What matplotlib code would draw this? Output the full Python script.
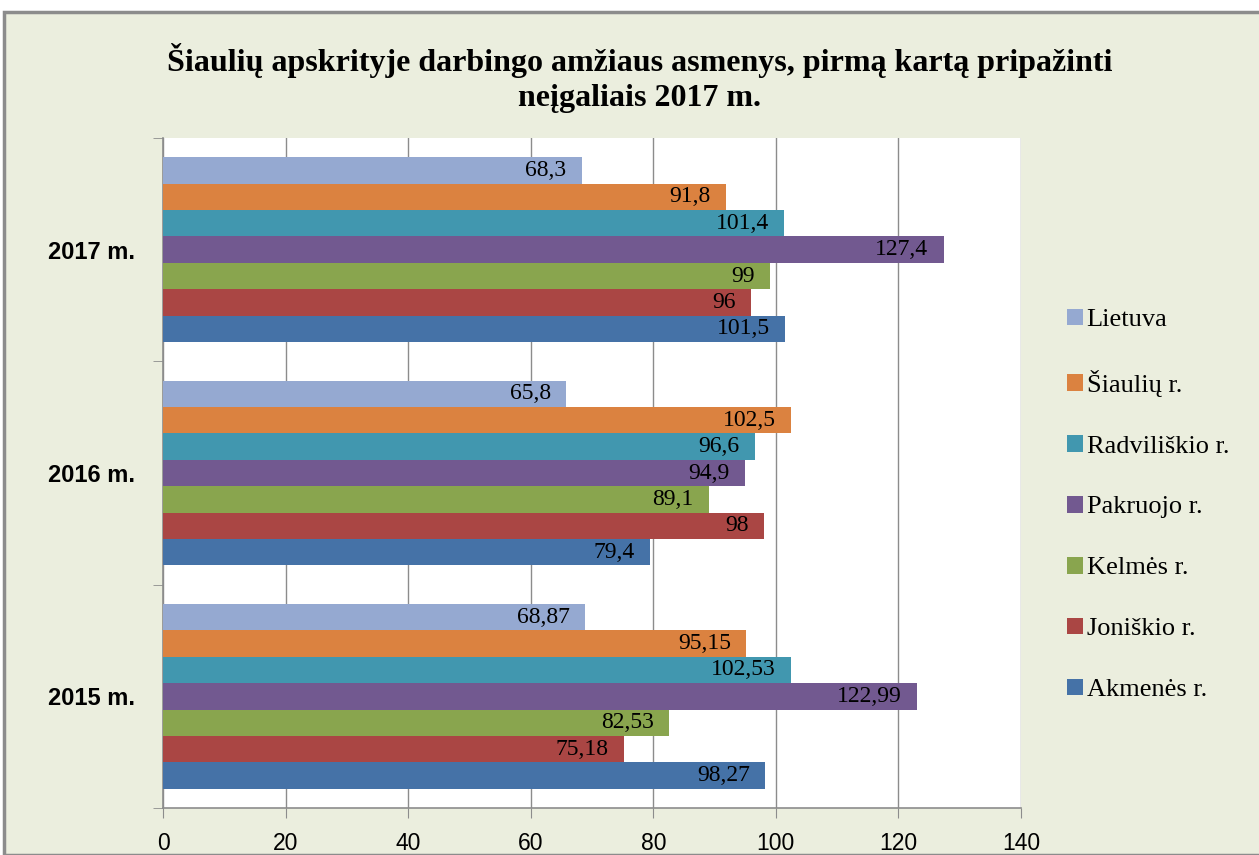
import matplotlib.pyplot as plt
import matplotlib.patches as mpatches
import numpy as np

years = ['2015 m.', '2016 m.', '2017 m.']
series = ['Akmenės r.', 'Joniškio r.', 'Kelmės r.', 'Pakruojo r.',
          'Radviliškio r.', 'Šiaulių r.', 'Lietuva']
akmenes = [98.27, 79.4, 101.5]
joniskio = [75.18, 98, 96]
kelmes = [82.53, 89.1, 99]
pakruojo = [122.99, 94.9, 127.4]
radviliskio = [102.53, 96.6, 101.4]
siauliu = [95.15, 102.5, 91.8]
lietuva = [68.87, 65.8, 68.3]
# labels as written on the chart
akmenes_lbl = ['98,27', '79,4', '101,5']
joniskio_lbl = ['75,18', '98', '96']
kelmes_lbl = ['82,53', '89,1', '99']
pakruojo_lbl = ['122,99', '94,9', '127,4']
radviliskio_lbl = ['102,53', '96,6', '101,4']
siauliu_lbl = ['95,15', '102,5', '91,8']
lietuva_lbl = ['68,87', '65,8', '68,3']

values = [akmenes, joniskio, kelmes, pakruojo, radviliskio, siauliu, lietuva]
labels = [akmenes_lbl, joniskio_lbl, kelmes_lbl, pakruojo_lbl,
          radviliskio_lbl, siauliu_lbl, lietuva_lbl]
colors = ['#4572A7', '#AA4644', '#89A54E', '#725990', '#4197AF', '#DB8240', '#95A9D1']

W, H = 1259, 855
fig = plt.figure(figsize=(W / 100, H / 100), dpi=100)
fig.patch.set_facecolor('white')
bg = mpatches.Rectangle((4 / W, 0), 1.2, 1 - 12 / H, transform=fig.transFigure,
                        facecolor='#EBEEDE', edgecolor='#8C8C8C', linewidth=2.5, zorder=-10)
fig.patches.append(bg)

ax = fig.add_axes([163 / W, 1 - 808 / H, (1021 - 163) / W, (808 - 138) / H])
ax.set_facecolor('white')

n = len(series)
h = 0.118
y = np.arange(len(years))
for i in range(n):
    pos = y - n * h / 2 + (i + 0.5) * h
    ax.barh(pos, values[i], height=h, color=colors[i], label=series[i], zorder=3)
    for p, v, t in zip(pos, values[i], labels[i]):
        ax.annotate(t, (v, p), xytext=(-11, 0), textcoords='offset points',
                    ha='right', va='center', fontsize=17,
                    family='Liberation Serif', zorder=4)

ax.set_xlim(0, 140)
ax.set_ylim(-0.5, 2.5)
ax.set_xticks(np.arange(0, 141, 20))
ax.grid(axis='x', color='#8C8C8C', linewidth=1, zorder=0)
ax.set_yticks(y)
ax.set_yticklabels(years, fontsize=17, fontweight='bold', family='Liberation Sans')
ax.set_yticks([-0.5, 0.5, 1.5, 2.5], minor=True)
ax.tick_params(axis='y', which='major', length=0, pad=20)
ax.tick_params(axis='y', which='minor', length=7, color='#8C8C8C')
ax.tick_params(axis='x', length=7, color='#8C8C8C', labelsize=16.5, pad=10)
for lbl in ax.get_xticklabels():
    lbl.set_family('Liberation Sans')
for s in ['top', 'right']:
    ax.spines[s].set_visible(False)
for s in ['left', 'bottom']:
    ax.spines[s].set_color('#8C8C8C')
    ax.spines[s].set_linewidth(1.2)

fig.text(640 / W, 1 - 78 / H, 'Šiaulių apskrityje darbingo amžiaus asmenys, pirmą kartą pripažinti\nneįgaliais 2017 m.',
         ha='center', va='center', fontsize=23, fontweight='bold',
         family='Liberation Serif', linespacing=1.3)

handles, legend_labels = ax.get_legend_handles_labels()
leg = fig.legend(handles[::-1], legend_labels[::-1], loc='center left',
                 bbox_to_anchor=(1043 / W, 1 - 505 / H), frameon=False,
                 prop={'family': 'Liberation Serif', 'size': 19},
                 handlelength=0.6, handleheight=0.6, handletextpad=0.15,
                 labelspacing=1.45)

fig.savefig('out.png', dpi=100)
